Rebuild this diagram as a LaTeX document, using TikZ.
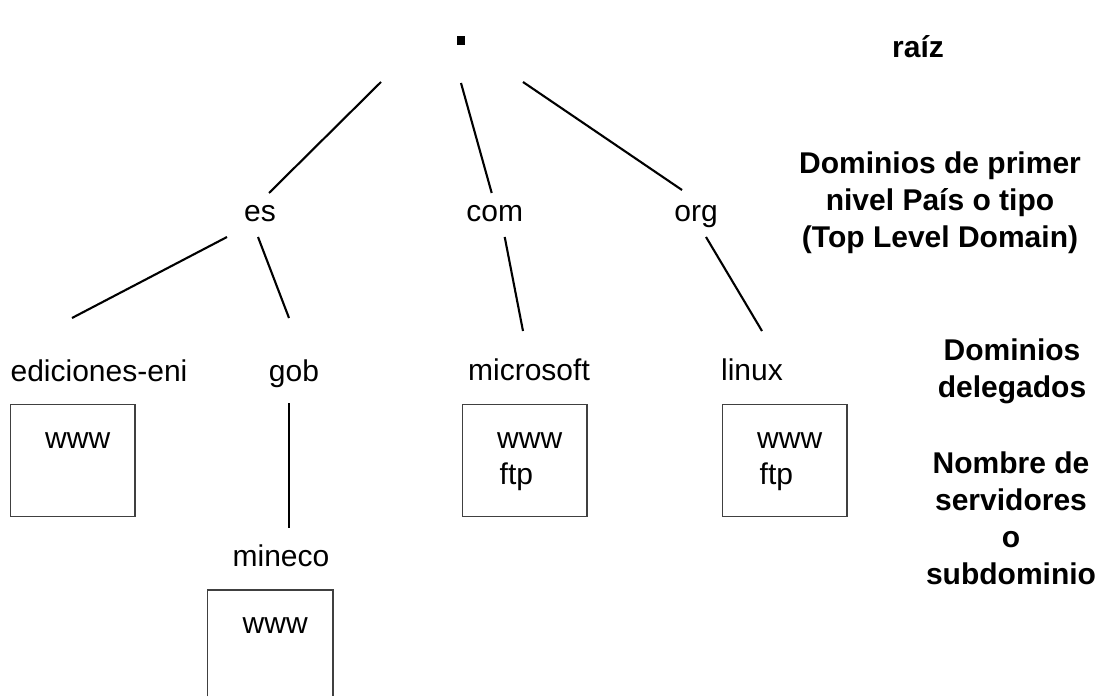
\documentclass[tikz,border=0pt]{standalone}
\usepackage{fontspec}
\setmainfont{Liberation Sans}
\begin{document}
\begin{tikzpicture}[x=1pt,y=-1pt,
  lbl/.style={font=\fontsize{30}{36}\selectfont, inner sep=0pt, anchor=base},
  srvtxt/.style={font=\fontsize{30}{36}\selectfont, inner sep=0pt, anchor=base west},
  side/.style={font=\fontsize{30}{37}\selectfont\bfseries, inner sep=0pt, align=center, anchor=base},
  link/.style={line width=2.1pt},
  boxline/.style={draw=black!75, line width=1.7pt},
  srv/.style={boxline, minimum width=124.5pt, minimum height=112pt, inner sep=0pt, anchor=north west}]
\useasboundingbox[fill=white] (0,0) rectangle (1102,696);

% root
\node[fill=black, minimum size=8.5pt, inner sep=0pt] (root) at (461,40.5) {};

% first level
\node[lbl] (es)  at (260,221) {es};
\node[lbl] (com) at (494.7,221) {com};
\node[lbl] (org) at (696,221) {org};

% second level
\node[lbl] (edic)  at (99,381) {ediciones-eni};
\node[lbl] (gob)   at (294,381) {gob};
\node[lbl] (ms)    at (529,380) {microsoft};
\node[lbl] (linux) at (752,380) {linux};
\node[lbl] (mineco) at (281,566) {mineco};

% server boxes
\node[srv] (b1) at (9.5,403.5) {};
\node[srv] (b2) at (461.5,403.5) {};
\node[srv] (b3) at (721.5,403.5) {};
\node[inner sep=0pt, minimum width=125pt, minimum height=106pt, anchor=north west] (b4) at (207.5,590) {};
\draw[boxline] (b4.south west) -- (b4.north west) -- (b4.north east) -- (b4.south east);

\node[srvtxt] (w1) at (45,448) {www};
\node[srvtxt] (w2) at (497,448) {www};
\node[srvtxt] (f2) at (499.5,484) {ftp};
\node[srvtxt] (w3) at (757,448) {www};
\node[srvtxt] (f3) at (759.5,484) {ftp};
\node[srvtxt] (w4) at (242.5,633) {www};

% connectors
\draw[link] ([shift={(-80,41.5)}]root.center) -- ([shift={(9,-28)}]es.base);
\draw[link] ([shift={(0,42.5)}]root.center) -- ([shift={(-3,-28)}]com.base);
\draw[link] ([shift={(62,41.5)}]root.center) -- ([shift={(-14,-31)}]org.base);
\draw[link] ([shift={(-33,16)}]es.base) -- ([shift={(-27,-63)}]edic.base);
\draw[link] ([shift={(-2,16)}]es.base) -- ([shift={(-5,-63)}]gob.base);
\draw[link] ([shift={(10,16)}]com.base) -- ([shift={(-6,-49)}]ms.base);
\draw[link] ([shift={(10,16)}]org.base) -- ([shift={(10,-49)}]linux.base);
\draw[link] ([shift={(-5,22)}]gob.base) -- ([shift={(8,-38)}]mineco.base);

% side labels (anchor = baseline of the last line)
\node[side] (raiz) at (918,57) {raíz};
\node[side] (tld) at (940,247) {Dominios de primer\\nivel País o tipo\\(Top Level Domain)};
\node[side] (deleg) at (1012,397) {Dominios\\delegados};
\node[side] (servs) at (1011,584) {Nombre de\\servidores\\o\\subdominio};
\end{tikzpicture}
\end{document}
